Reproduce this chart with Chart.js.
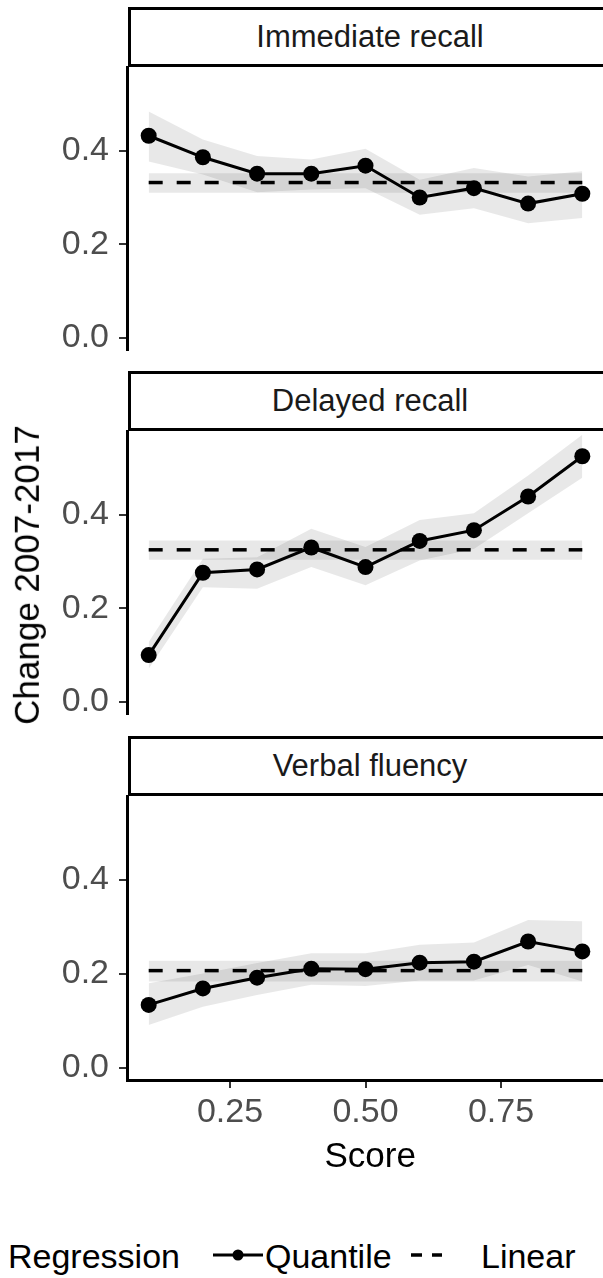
<!DOCTYPE html>
<html><head><meta charset="utf-8">
<script src="https://cdn.jsdelivr.net/npm/chart.js@4"></script>
<style>
html,body{margin:0;padding:0;width:603px;height:1278px;overflow:hidden;background:#fff;font-family:'Liberation Sans',Arial,sans-serif;}
canvas{position:absolute;}
.strip{position:absolute;box-sizing:border-box;border:3px solid #000;background:#fff;left:128px;width:484px;height:60px;display:flex;align-items:center;justify-content:center;font-size:31px;color:#1a1a1a;}
.txt{position:absolute;white-space:nowrap;line-height:40px;height:40px;}
</style></head><body>
<script>
// ---- data ----
const panels = ["Immediate recall", "Delayed recall", "Verbal fluency"];
const categories = [0.1, 0.2, 0.3, 0.4, 0.5, 0.6, 0.7, 0.8, 0.9];
const xTicks = [0.25, 0.5, 0.75];
const yTicks = [0.0, 0.2, 0.4];

const quantileImmediate = [0.432, 0.386, 0.351, 0.351, 0.368, 0.300, 0.320, 0.287, 0.308];
const upperImmediate    = [0.484, 0.424, 0.389, 0.381, 0.404, 0.338, 0.363, 0.345, 0.356];
const lowerImmediate    = [0.377, 0.349, 0.311, 0.317, 0.320, 0.263, 0.277, 0.245, 0.256];

const quantileDelayed = [0.100, 0.276, 0.283, 0.330, 0.288, 0.344, 0.367, 0.439, 0.525];
const upperDelayed    = [0.128, 0.306, 0.309, 0.370, 0.331, 0.389, 0.403, 0.484, 0.571];
const lowerDelayed    = [0.071, 0.245, 0.242, 0.288, 0.249, 0.302, 0.327, 0.403, 0.479];

const quantileVerbal = [0.134, 0.169, 0.192, 0.211, 0.210, 0.224, 0.226, 0.269, 0.248];
const upperVerbal    = [0.180, 0.201, 0.223, 0.244, 0.244, 0.262, 0.267, 0.315, 0.312];
const lowerVerbal    = [0.091, 0.130, 0.155, 0.177, 0.174, 0.186, 0.186, 0.219, 0.184];

const linearEstimate = [0.332, 0.325, 0.207];
const linearUpper    = [0.352, 0.345, 0.228];
const linearLower    = [0.310, 0.304, 0.184];

const quantile = [quantileImmediate, quantileDelayed, quantileVerbal];
const qUpper = [upperImmediate, upperDelayed, upperVerbal];
const qLower = [lowerImmediate, lowerDelayed, lowerVerbal];

// ---- layout ----
const FONT = "'Liberation Sans', Arial, sans-serif";
Chart.defaults.font.family = FONT;
const band = 'rgba(0,0,0,0.09)';
const plotTops = [67, 431, 796];
const plotHeights = [283, 283, 284];
const stripTops = [7, 371, 736];

function makePanel(i) {
  const showX = i === 2;
  const padTop = 40, padBottom = showX ? 0 : 40, xAxisH = showX ? 60 : 0;
  const W = 612, H = padTop + plotHeights[i] + padBottom + xAxisH;
  const c = document.createElement('canvas');
  c.width = W; c.height = H;
  c.style.left = '0px'; c.style.top = (plotTops[i] - padTop) + 'px';
  c.style.width = W + 'px'; c.style.height = H + 'px';
  document.body.appendChild(c);

  const strip = document.createElement('div');
  strip.className = 'strip';
  strip.style.top = stripTops[i] + 'px';
  strip.textContent = panels[i];
  document.body.appendChild(strip);

  const pts = arr => categories.map((x, k) => ({x: x, y: arr[k]}));
  const ends = v => [{x: categories[0], y: v}, {x: categories[categories.length - 1], y: v}];
  const bandDs = (data, fill, order) => ({data, fill, order, backgroundColor: band, borderColor: 'rgba(0,0,0,0)', borderWidth: 0, pointRadius: 0, tension: 0});

  new Chart(c, {
    type: 'line',
    data: { datasets: [
      {data: pts(quantile[i]), borderColor: '#000', borderWidth: 3, pointRadius: 8, pointBackgroundColor: '#000', pointBorderColor: '#000', pointBorderWidth: 0, fill: false, order: 0, tension: 0},
      {data: ends(linearEstimate[i]), borderColor: '#000', borderWidth: 3.5, borderDash: [14, 14], pointRadius: 0, fill: false, order: 1},
      bandDs(pts(qUpper[i]), '+1', 2),
      bandDs(pts(qLower[i]), false, 3),
      bandDs(ends(linearUpper[i]), '+1', 4),
      bandDs(ends(linearLower[i]), false, 5)
    ]},
    options: {
      responsive: false, animation: false, devicePixelRatio: 1,
      layout: {padding: {top: padTop, bottom: padBottom, left: 0, right: 0}},
      plugins: {legend: {display: false}, tooltip: {enabled: false}},
      scales: {
        x: {
          type: 'linear', min: 0.06, max: 0.94, display: showX,
          afterBuildTicks: ax => { ax.ticks = xTicks.map(v => ({value: v})); },
          afterFit: ax => { ax.height = xAxisH; },
          grid: {drawOnChartArea: false, drawTicks: true, tickLength: 8, color: '#333', lineWidth: 2},
          border: {display: true, color: '#000', width: 3},
          ticks: {font: {size: 34}, color: '#4d4d4d', padding: 4, maxRotation: 0, callback: v => v.toFixed(2)}
        },
        y: {
          type: 'linear', min: -0.026, max: 0.579,
          afterBuildTicks: ax => { ax.ticks = yTicks.map(v => ({value: v})); },
          afterFit: ax => { ax.width = 127; },
          grid: {drawOnChartArea: false, drawTicks: true, tickLength: 8, color: '#333', lineWidth: 2},
          border: {display: true, color: '#000', width: 3},
          ticks: {font: {size: 34}, color: '#4d4d4d', padding: 10, callback: v => v.toFixed(1)}
        }
      }
    }
  });
}
[0, 1, 2].forEach(makePanel);

// ---- axis titles ----
function addText(str, left, top, size, extra) {
  const d = document.createElement('div');
  d.className = 'txt';
  d.style.left = left + 'px'; d.style.top = top + 'px';
  d.style.fontSize = size + 'px';
  d.textContent = str;
  if (extra) Object.assign(d.style, extra);
  document.body.appendChild(d);
  return d;
}
// y title rotated, centred at (27, 575)
const yt = addText('Change 2007-2017', 0, 0, 35, {color: '#000'});
yt.style.left = (27 - yt.offsetWidth / 2) + 'px';
yt.style.top = (575 - 20) + 'px';
yt.style.transform = 'rotate(-90deg)';
yt.style.transformOrigin = '50% 50%';
// x title
const xt = addText('Score', 0, 1155 - 20, 35, {color: '#000'});
xt.style.left = (370 - xt.offsetWidth / 2) + 'px';

// ---- legend ----
addText('Regression', 8, 1236, 34, {color: '#000'});
addText('Quantile', 265, 1236, 34, {color: '#000'});
addText('Linear', 481, 1236, 34, {color: '#000'});
const svgNS = 'http://www.w3.org/2000/svg';
const svg = document.createElementNS(svgNS, 'svg');
svg.setAttribute('width', '603'); svg.setAttribute('height', '40');
svg.style.position = 'absolute'; svg.style.left = '0px'; svg.style.top = '1235px';
svg.innerHTML = '<line x1="213" y1="20" x2="263" y2="20" stroke="#000" stroke-width="3"/>' +
  '<circle cx="238" cy="20" r="5.5" fill="#000"/>' +
  '<line x1="411" y1="20" x2="422" y2="20" stroke="#000" stroke-width="3.5"/>' +
  '<line x1="432" y1="20" x2="442" y2="20" stroke="#000" stroke-width="3.5"/>';
document.body.appendChild(svg);
</script>
</body></html>
